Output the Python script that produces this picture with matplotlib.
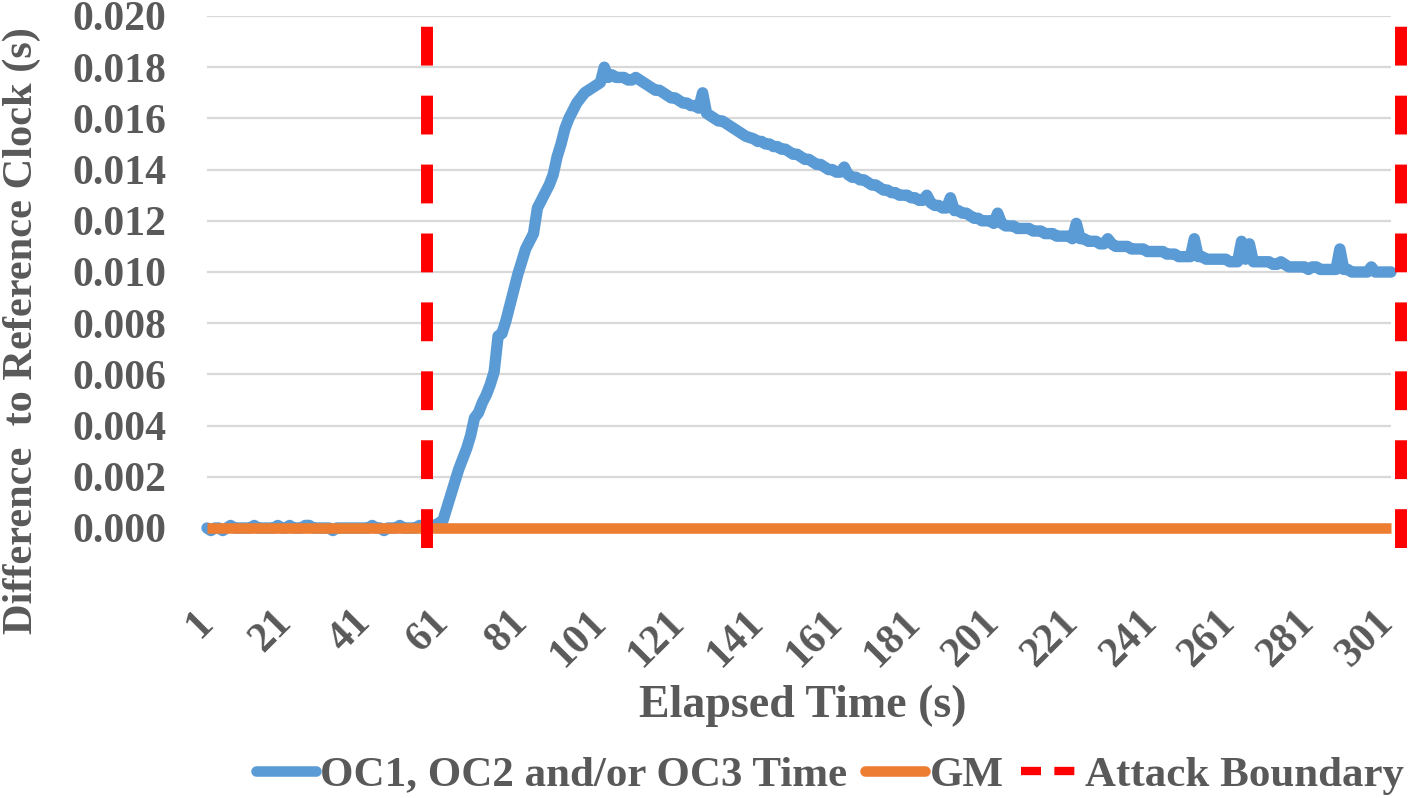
import numpy as np
import matplotlib
matplotlib.use("Agg")
import matplotlib.pyplot as plt
from matplotlib.lines import Line2D

# ---------------- data ----------------
oc_time = [
    0.0000, -0.0001, 0.0000, 0.0000, -0.0001, 0.0000, 0.0001, 0.0000, 0.0000, 0.0000,   # 1-10
    0.0000, 0.0000, 0.0001, 0.0000, 0.0000, 0.0000, 0.0000, 0.0000, 0.0001, 0.0000,    # 11-20
    0.0000, 0.0001, 0.0000, 0.0000, 0.0000, 0.0001, 0.0001, 0.0000, 0.0000, 0.0000,    # 21-30
    0.0000, 0.0000, -0.0001, 0.0000, 0.0000, 0.0000, 0.0000, 0.0000, 0.0000, 0.0000,   # 31-40
    0.0000, 0.0000, 0.0001, 0.0000, 0.0000, -0.0001, 0.0000, 0.0000, 0.0000, 0.0001,   # 41-50
    0.0000, 0.0000, 0.0000, 0.0000, 0.0001, 0.0000, 0.0000, 0.0001, 0.0001, 0.0002,    # 51-60
    0.0003, 0.0008, 0.0013, 0.0018, 0.0023, 0.0027, 0.0031, 0.0036, 0.0043, 0.0045,    # 61-70
    0.0049, 0.0052, 0.0056, 0.0061, 0.0075, 0.0076, 0.0081, 0.0087, 0.0093, 0.0099,    # 71-80
    0.0104, 0.0109, 0.0112, 0.0115, 0.0125, 0.0128, 0.0131, 0.0134, 0.0138, 0.0145,    # 81-90
    0.0150, 0.0156, 0.0160, 0.0163, 0.0166, 0.0168, 0.0170, 0.0171, 0.0172, 0.0173,    # 91-100
    0.0174, 0.0180, 0.0176, 0.0177, 0.0176, 0.0176, 0.0176, 0.0175, 0.0175, 0.0176,    # 101-110
    0.0175, 0.0174, 0.0173, 0.0172, 0.0171, 0.0171, 0.0170, 0.0169, 0.0168, 0.0168,    # 111-120
    0.0167, 0.0166, 0.0166, 0.0165, 0.0165, 0.0164, 0.0170, 0.0162, 0.0161, 0.0160,    # 121-130
    0.0159, 0.0159, 0.0158, 0.0157, 0.0156, 0.0155, 0.0154, 0.0153, 0.01525, 0.0152,   # 131-140
    0.0151, 0.0151, 0.0150, 0.0150, 0.0149, 0.0149, 0.0148, 0.0148, 0.0147, 0.0146,    # 141-150
    0.0146, 0.0145, 0.0144, 0.0144, 0.0143, 0.0142, 0.0142, 0.0141, 0.0140, 0.0140,    # 151-160
    0.0139, 0.0139, 0.0141, 0.0138, 0.0137, 0.0137, 0.0136, 0.0136, 0.0135, 0.0134,    # 161-170
    0.0134, 0.0133, 0.0132, 0.0132, 0.0131, 0.0131, 0.0130, 0.0130, 0.0130, 0.0129,    # 171-180
    0.0129, 0.0128, 0.0128, 0.0130, 0.0127, 0.0126, 0.0126, 0.0125, 0.0125, 0.0129,    # 181-190
    0.0124, 0.0124, 0.0123, 0.0123, 0.0122, 0.0121, 0.0121, 0.0120, 0.0120, 0.0120,    # 191-200
    0.0119, 0.0123, 0.0119, 0.0118, 0.0118, 0.0118, 0.0117, 0.0117, 0.0117, 0.0117,    # 201-210
    0.0116, 0.0116, 0.0116, 0.0115, 0.0115, 0.0115, 0.0114, 0.0114, 0.0114, 0.0114,    # 211-220
    0.0113, 0.0119, 0.0113, 0.0113, 0.0112, 0.0112, 0.0112, 0.0111, 0.0111, 0.0113,    # 221-230
    0.0111, 0.0110, 0.0110, 0.0110, 0.0110, 0.0109, 0.0109, 0.0109, 0.0109, 0.0108,    # 231-240
    0.0108, 0.0108, 0.0108, 0.0108, 0.0107, 0.0107, 0.0107, 0.0106, 0.0106, 0.0106,    # 241-250
    0.0106, 0.0113, 0.0106, 0.0106, 0.0105, 0.0105, 0.0105, 0.0105, 0.0105, 0.0105,    # 251-260
    0.0104, 0.0104, 0.0104, 0.0112, 0.0105, 0.0111, 0.0104, 0.0104, 0.0104, 0.0104,    # 261-270
    0.0104, 0.0103, 0.0103, 0.0104, 0.0103, 0.0102, 0.0102, 0.0102, 0.0102, 0.0102,    # 271-280
    0.0101, 0.0102, 0.0102, 0.0101, 0.0101, 0.0101, 0.0101, 0.0101, 0.0109, 0.0101,    # 281-290
    0.0101, 0.0100, 0.0100, 0.0100, 0.0100, 0.0100, 0.0102, 0.0100, 0.0100, 0.0100,    # 291-300
    0.0100, 0.0100,                                                                     # 301-302
]
elapsed = list(range(1, len(oc_time) + 1))
gm_time = [0.0] * len(oc_time)
attack_boundary = [57, 304.5]
boundary_span = [-0.0008, 0.0203]

x_ticks = list(range(1, 302, 20))
y_ticks = [0.000, 0.002, 0.004, 0.006, 0.008, 0.010, 0.012, 0.014, 0.016, 0.018, 0.020]

series_names = ["OC1, OC2 and/or OC3 Time", "GM", "Attack Boundary"]

# ---------------- style ----------------
BLUE = "#5B9BD5"
ORANGE = "#ED7D31"
RED = "#FF0000"
TXT = "#595959"
FONT = ["Liberation Serif", "DejaVu Serif"]
plt.rcParams["font.family"] = FONT
plt.rcParams["font.weight"] = "bold"

W, H = 1418, 798
fig = plt.figure(figsize=(W / 100, H / 100), dpi=100)
fig.patch.set_facecolor("white")

left, right, top, bottom = 207, 1391, 16, 528
ax = fig.add_axes([left / W, 1 - bottom / H, (right - left) / W, (bottom - top) / H])
ax.set_xlim(1, 302)
ax.set_ylim(0, 0.020)

for s in ax.spines.values():
    s.set_visible(False)

ax.set_yticks(y_ticks)
ax.set_yticklabels([f"{v:.3f}" for v in y_ticks])
ax.yaxis.grid(True, color="#D9D9D9", lw=1.6, zorder=0)
ax.xaxis.grid(False)
ax.set_xticks(x_ticks)
ax.set_xticklabels([str(v) for v in x_ticks])
ax.tick_params(axis="y", length=0, pad=29, labelsize=30, labelcolor=TXT)
ax.tick_params(axis="x", length=0, pad=64, labelsize=30, labelcolor=TXT)
for lab in ax.get_xticklabels():
    lab.set_rotation(45)
    lab.set_ha("right")
    lab.set_va("center")
    lab.set_rotation_mode("anchor")
for lab in ax.get_xticklabels() + ax.get_yticklabels():
    lab.set_fontweight("bold")

ax.plot(elapsed, oc_time, color=BLUE, lw=8.2, solid_joinstyle="round",
        solid_capstyle="round", clip_on=False, zorder=3)
ax.plot(elapsed, gm_time, color=ORANGE, lw=7.6, solid_capstyle="butt",
        clip_on=False, zorder=4)
for b in attack_boundary:
    ax.plot([b, b], boundary_span, color=RED, lw=8.6, dashes=(3.25, 2.52),
            dash_capstyle="butt", clip_on=False, zorder=5)

fig.text(803 / W, 1 - 717 / H, "Elapsed Time (s)", ha="center", va="baseline",
         fontsize=33, fontweight="bold", color=TXT)
fig.text(22 / W, 1 - 331 / H, "Difference  to Reference Clock (s)", ha="center",
         va="center", rotation=90, fontsize=30.5, fontweight="bold", color=TXT)

handles = [
    Line2D([], [], color=BLUE, lw=7.6, solid_capstyle="round"),
    Line2D([], [], color=ORANGE, lw=7.6, solid_capstyle="round"),
    Line2D([], [], color=RED, lw=6, dashes=(2.4, 1.6), dash_capstyle="butt"),
]
leg = fig.legend(handles, series_names, loc="center", ncol=3,
                 bbox_to_anchor=(830 / W, 1 - 775 / H), frameon=False,
                 handlelength=1.4, handletextpad=0.1, columnspacing=0.4,
                 prop={"family": FONT, "weight": "bold", "size": 31})
for t in leg.get_texts():
    t.set_color(TXT)

fig.savefig("out.png", dpi=100, facecolor="white")
